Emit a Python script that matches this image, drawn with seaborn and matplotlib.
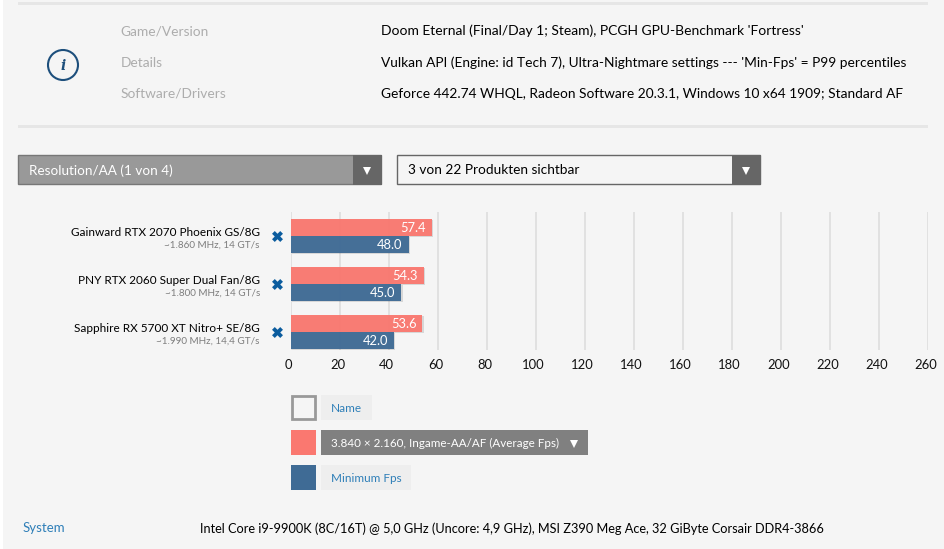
import matplotlib
matplotlib.use('Agg')
import matplotlib.pyplot as plt
import matplotlib.patheffects as pe
from matplotlib.patches import Rectangle, Circle
from matplotlib.transforms import offset_copy
import pandas as pd
import seaborn as sns

W, H = 945, 549

products = ['Gainward RTX 2070 Phoenix GS/8G', 'PNY RTX 2060 Super Dual Fan/8G', 'Sapphire RX 5700 XT Nitro+ SE/8G']
clocks = ['~1.860 MHz, 14 GT/s', '~1.800 MHz, 14 GT/s', '~1.990 MHz, 14,4 GT/s']
avg_fps = [57.4, 54.3, 53.6]
min_fps = [48.0, 45.0, 42.0]
x_ticks = list(range(0, 261, 20))

info_keys = ['Game/Version', 'Details', 'Software/Drivers']
info_values = ["Doom Eternal (Final/Day 1; Steam), PCGH GPU-Benchmark 'Fortress'",
               "Vulkan API (Engine: id Tech 7), Ultra-Nightmare settings --- 'Min-Fps' = P99 percentiles",
               "Geforce 442.74 WHQL, Radeon Software 20.3.1, Windows 10 x64 1909; Standard AF"]
system_text = 'Intel Core i9-9900K (8C/16T) @ 5,0 GHz (Uncore: 4,9 GHz), MSI Z390 Meg Ace, 32 GiByte Corsair DDR4-3866'

RED = '#fa7870'
BLUE = '#3f6b95'
LINK = '#2f7fb8'
BG = '#f5f5f5'

sns.set_theme(style='whitegrid')
plt.rcParams['font.family'] = ['Lato', 'DejaVu Sans']

fig = plt.figure(figsize=(W / 100, H / 100), dpi=100, facecolor='white')

# page furniture in pixel coordinates
deco = fig.add_axes([0, 0, 1, 1])
deco.set_xlim(0, W)
deco.set_ylim(H, 0)
deco.axis('off')


def box(x0, y0, x1, y1, **kw):
    deco.add_patch(Rectangle((x0, y0), x1 - x0, y1 - y0, **kw))


box(3, 0, W, H, facecolor=BG, edgecolor='none')
box(18, 2, 928, 5, facecolor='#e6e6e6', edgecolor='none')
box(18, 125, 928, 128, facecolor='#e6e6e6', edgecolor='none')

# info block
deco.add_patch(Circle((63, 65), 15, facecolor='none', edgecolor='#1d4f7c', linewidth=1.5))
deco.text(63, 65.5, 'i', family='DejaVu Serif', style='italic', weight='bold', fontsize=10,
          color='#1d4f7c', ha='center', va='center')
for y, key, val, size in zip([31, 63, 94], info_keys, info_values, [10.0, 9.92, 9.87]):
    deco.text(120.5, y, key, fontsize=9.9, color='#adadad', va='center')
    deco.text(381, y, val, fontsize=size, color='#000000', va='center')

# dropdowns
box(18, 155, 381, 184, facecolor='#999999', edgecolor='#777777', linewidth=1)
box(353, 154.5, 381.5, 184.5, facecolor='#666666', edgecolor='none')
deco.text(29, 170.5, 'Resolution/AA (1 von 4)', fontsize=9.7, color='white', va='center')
box(397, 155, 760, 184, facecolor=BG, edgecolor='#666666', linewidth=1)
box(732, 154.5, 760.5, 184.5, facecolor='#666666', edgecolor='none')
deco.text(408, 170.5, '3 von 22 Produkten sichtbar', fontsize=9.8, color='#000000', va='center')
deco.plot([367, 746, 574], [171, 171, 444], 'v', color='white', markersize=6, markeredgewidth=0)

# legend rows
box(291.5, 395.5, 314.5, 418.5, facecolor='none', edgecolor='#999999', linewidth=2)
box(321, 395, 372, 420, facecolor='#eeeeee', edgecolor='none')
deco.text(331, 408, 'Name', fontsize=8.45, color=LINK, va='center')
box(291, 430, 316, 455, facecolor=RED, edgecolor='none')
box(321, 430, 588, 455, facecolor='#808080', edgecolor='none')
deco.text(331, 443, '3.840 × 2.160, Ingame-AA/AF (Average Fps)', fontsize=8.4, color='white', va='center')
box(291, 465, 316, 490, facecolor=BLUE, edgecolor='none')
box(321, 465, 411, 490, facecolor='#eeeeee', edgecolor='none')
deco.text(331, 478, 'Minimum Fps', fontsize=8.45, color=LINK, va='center')

# footer
deco.text(22.5, 528.5, 'System', fontsize=9.5, color=LINK, va='center')
deco.text(200, 528.5, system_text, fontsize=9.17, color='#000000', va='center')

# the chart itself
ax = fig.add_axes([291 / W, 1 - 350 / H, 637.3 / W, 138 / H])
ax.patch.set_alpha(0)

df = pd.DataFrame({
    'product': products * 2,
    'fps': avg_fps + min_fps,
    'series': ['avg'] * 3 + ['min'] * 3,
})
sns.barplot(data=df, x='fps', y='product', hue='series', hue_order=['avg', 'min'],
            palette=[RED, BLUE], saturation=1, width=0.708, gap=0, orient='y',
            legend=False, ax=ax, alpha=0.96, linewidth=0)

for cont in ax.containers:
    for bar in cont:
        bar.set_path_effects([pe.SimplePatchShadow(offset=(1, -1), shadow_rgbFace='#000000', alpha=0.12), pe.Normal()])
    for lab in ax.bar_label(cont, fmt='%.1f', padding=-4.3, color='white', fontsize=9.3):
        lab.set_ha('right')
        lab.xyann = (-4.3, -0.7)

ax.set_xlim(0, 260)
ax.set_ylim(2.375, -0.5)
ax.set_xticks(x_ticks)
ax.set_xlabel('')
ax.set_ylabel('')
sns.despine(ax=ax, left=True, bottom=True)
ax.grid(axis='x', color='#dcdcdc', linewidth=1.1)
ax.grid(axis='y', visible=False)
ax.set_axisbelow(True)
ax.tick_params(axis='x', length=0, pad=6.2, labelsize=9.4, labelcolor='#111111')
ax.tick_params(axis='y', length=0, pad=22.3, labelsize=8.45, labelcolor='#000000')

for lab in ax.get_xticklabels():
    lab.set_transform(offset_copy(lab.get_transform(), fig=fig, x=-2.5, y=0, units='dots'))
for lab in ax.get_yticklabels():
    lab.set_transform(offset_copy(lab.get_transform(), fig=fig, x=0, y=5, units='dots'))

# clock line under every name and the remove cross
ytrans = ax.get_yaxis_transform()
for i, txt in enumerate(clocks):
    ax.annotate(txt, xy=(0, i), xycoords=ytrans, xytext=(-31, -9.5), textcoords='offset pixels',
                ha='right', va='center', fontsize=7.1, color='#7d7d7d', annotation_clip=False)
    ax.scatter([-14 / 637], [i], marker='X', s=62, color='#0b5c9e', linewidths=0,
               transform=ytrans, clip_on=False, zorder=5)

fig.savefig('out.png', dpi=100, facecolor=fig.get_facecolor())
